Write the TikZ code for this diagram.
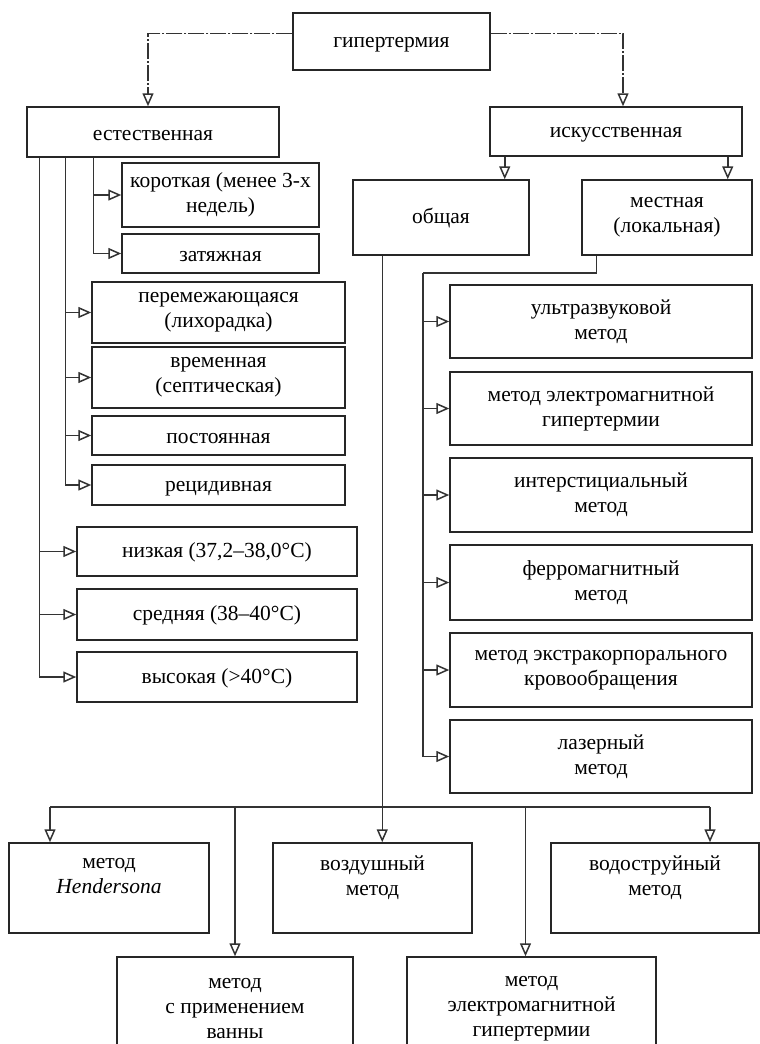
\documentclass[tikz,border=0pt]{standalone}
\usepackage{fontspec}
\setmainfont{Liberation Serif}
\usetikzlibrary{arrows.meta}

\begin{document}
\begin{tikzpicture}[x=1pt,y=-1pt]
  \tikzstyle{every node}=[font=\fontsize{21.5}{25}\selectfont, text=black]
  \tikzstyle{box}=[draw=black!85, rectangle, align=center, line width=1.5pt, inner sep=2pt,
    execute at begin node={\rule{0pt}{17pt}}]
  \tikzstyle{arr}=[draw=black!80, line width=1.5pt, -{Triangle[open,length=13pt,width=11pt]}]
  \tikzstyle{dotarr}=[arr, dash pattern=on 16pt off 2pt on 2pt off 2pt]
  \useasboundingbox (0,0) rectangle (760,1044);

  % top levels
  \node[box, minimum width=197, minimum height=57] (hyp) at (391.5,41.5) {гипертермия};
  \node[box, minimum width=252, minimum height=50] (nat) at (153,132) {естественная};
  \node[box, minimum width=252, minimum height=49] (art) at (616,131.5) {искусственная};
  \node[box, minimum width=176, minimum height=75] (gen) at (441,217.5) {общая};
  \node[box, minimum width=170, minimum height=75] (loc) at (667,217.5) {местная\\(локальная)};

  % natural: left column
  \node[box, minimum width=197, minimum height=64] (short) at (220.5,195) {короткая (менее 3-х\\недель)};
  \node[box, minimum width=197, minimum height=39] (prot) at (220.5,253.5) {затяжная};
  \node[box, minimum width=253, minimum height=61] (inter) at (218.5,312.5) {перемежающаяся\\(лихорадка)};
  \node[box, minimum width=253, minimum height=61] (temp) at (218.5,377.5) {временная\\(септическая)};
  \node[box, minimum width=253, minimum height=39] (const) at (218.5,435.5) {постоянная};
  \node[box, minimum width=253, minimum height=40] (recid) at (218.5,485) {рецидивная};
  \node[box, minimum width=280, minimum height=49] (low) at (217,551.5) {низкая (37,2–38,0°C)};
  \node[box, minimum width=280, minimum height=51] (mid) at (217,614.5) {средняя (38–40°C)};
  \node[box, minimum width=280, minimum height=50] (high) at (217,677) {высокая (>40°C)};

  % local methods
  \node[box, minimum width=302, minimum height=73] (us) at (601,321.5) {ультразвуковой\\метод};
  \node[box, minimum width=302, minimum height=73] (em) at (601,408.5) {метод электромагнитной\\гипертермии};
  \node[box, minimum width=302, minimum height=74] (interst) at (601,495) {интерстициальный\\метод};
  \node[box, minimum width=302, minimum height=75] (ferro) at (601,582.5) {ферромагнитный\\метод};
  \node[box, minimum width=302, minimum height=74] (extra) at (601,670) {метод экстракорпорального\\кровообращения};
  \node[box, minimum width=302, minimum height=73] (laser) at (601,756.5) {лазерный\\метод};

  % general methods
  \node[box, minimum width=200, minimum height=90] (hend) at (109,888) {метод\\\textit{Hendersona}\\\mbox{}};
  \node[box, minimum width=199, minimum height=90] (air) at (372.5,888) {воздушный\\метод\\\mbox{}};
  \node[box, minimum width=208, minimum height=90] (water) at (655,888) {водоструйный\\метод\\\mbox{}};
  \node[box, minimum width=236, minimum height=104] (bath) at (235,1009) {метод\\с применением\\ванны};
  \node[box, minimum width=249, minimum height=104] (em2) at (531.5,1009) {метод\\электромагнитной\\гипертермии};

  \coordinate (rbus) at (423,273);
  \coordinate (botL) at (50,807);
  \coordinate (botR) at (710,807);

  \draw[dotarr] ([yshift=8pt]hyp.west) -| ([xshift=-5pt]nat.north);
  \draw[dotarr] ([yshift=8pt]hyp.east) -| ([xshift=7pt]art.north);
  \draw[arr] ([xshift=-25pt]gen.north east |- art.south) -- ([xshift=-25pt]gen.north east);
  \draw[arr] ([xshift=-25pt]loc.north east |- art.south) -- ([xshift=-25pt]loc.north east);

  \draw[arr] ([xshift=67pt]nat.south west) |- (short.west);
  \draw[arr] ([xshift=67pt]nat.south west) |- (prot.west);
  \foreach \n in {inter,temp,const,recid}
    \draw[arr] ([xshift=39pt]nat.south west) |- (\n.west);
  \foreach \n in {low,mid,high}
    \draw[arr] ([xshift=13pt]nat.south west) |- (\n.west);

  \draw[draw=black!80, line width=1.5pt] ([xshift=15pt]loc.south west) |- (rbus);
  \foreach \n in {us,em,interst,ferro,extra,laser}
    \draw[arr] (rbus) |- (\n.west);

  \draw[arr] ([xshift=30pt]gen.south west) -- ([xshift=30pt]gen.south west |- air.north);
  \draw[draw=black!80, line width=1.5pt] (botL) -- (botR);
  \draw[arr] (botL) -- (botL |- hend.north);
  \draw[arr] (botR) -- (botR |- water.north);
  \draw[arr] (botL -| bath.north) -- (bath.north);
  \draw[arr] (botL -| em2.north) ++(-6pt,0) -- ([xshift=-6pt]em2.north);
\end{tikzpicture}
\end{document}
